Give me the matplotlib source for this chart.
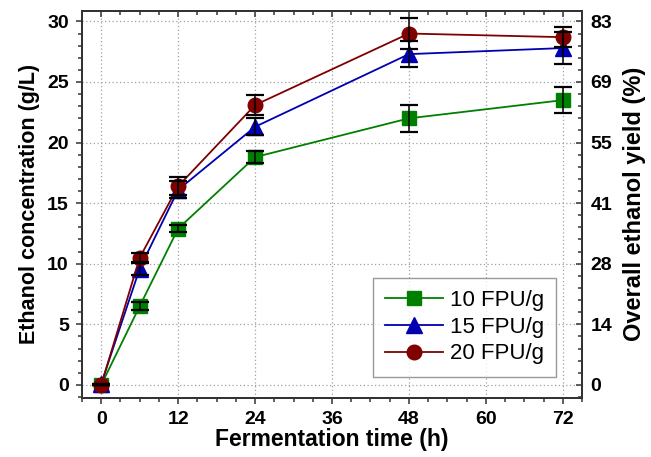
import numpy as np
import matplotlib
matplotlib.use("Agg")
import matplotlib.pyplot as plt
from matplotlib.ticker import MultipleLocator
from matplotlib.lines import Line2D

plt.rcParams['font.family'] = ['Liberation Sans', 'DejaVu Sans']

time_h = [0, 6, 12, 24, 48, 72]

ethanol_10 = [0.0, 6.5, 12.9, 18.8, 22.0, 23.5]
err_10 = [0.0, 0.35, 0.3, 0.5, 1.1, 1.1]

ethanol_15 = [0.1, 9.6, 16.1, 21.3, 27.3, 27.8]
err_15 = [0.0, 0.5, 0.7, 0.7, 1.1, 1.3]

ethanol_20 = [0.0, 10.5, 16.4, 23.1, 29.0, 28.7]
err_20 = [0.0, 0.35, 0.75, 0.8, 1.3, 0.8]

series_labels = ["10 FPU/g", "15 FPU/g", "20 FPU/g"]
series_colors = ["#008000", "#0000b0", "#800000"]
series_markers = ["s", "^", "o"]
marker_sizes = [10.5, 12, 10.5]

yield_ticks = [0, 5, 10, 15, 20, 25, 30]
yield_labels = ["0", "14", "28", "41", "55", "69", "83"]

fig = plt.figure(figsize=(6.51, 4.57), dpi=100)
ax = fig.add_axes([0.126, 0.130, 0.768, 0.847])

all_y = [ethanol_10, ethanol_15, ethanol_20]
all_err = [err_10, err_15, err_20]
handles = []
for y, lab, c, m, ms in zip(all_y, series_labels, series_colors, series_markers, marker_sizes):
    ax.plot(time_h, y, color=c, marker=m, markersize=ms, markeredgecolor=c,
            markerfacecolor=c, lw=1.3, zorder=3)
    handles.append(Line2D([], [], color=c, marker=m, markersize=ms, markeredgecolor=c,
                          markerfacecolor=c, lw=1.3, label=lab))

# error bars sit on top of the markers
for y, e in zip(all_y, all_err):
    ax.errorbar(time_h, y, yerr=e, fmt="none", ecolor="black", elinewidth=1.1,
                capsize=6.5, capthick=1.6, zorder=4)

xlim = (-3.0, 75.0)
ylim = (-1.05, 30.9)
ax.set_xlim(xlim)
ax.set_ylim(ylim)
ax.xaxis.set_major_locator(MultipleLocator(12))
ax.xaxis.set_minor_locator(MultipleLocator(3))
ax.yaxis.set_major_locator(MultipleLocator(5))
ax.yaxis.set_minor_locator(MultipleLocator(1))
ax.grid(True, which="major", ls=(0, (1, 2)), color="#a0a0a0", lw=0.9)
ax.tick_params(which="both", direction="out", labelsize=14, width=1.1, color="#333333")
ax.tick_params(which="major", length=4.5)
ax.tick_params(which="minor", length=3)
ax.tick_params(axis="x", pad=5)
ax.tick_params(axis="y", pad=5)
for lbl in ax.get_xticklabels() + ax.get_yticklabels():
    lbl.set_fontweight("bold")
for sp in ax.spines.values():
    sp.set_linewidth(1.3)
    sp.set_color("#333333")

ax.set_xlabel("Fermentation time (h)", fontsize=16.5, fontweight="bold", labelpad=0)
ax.set_ylabel("Ethanol concentration (g/L)", fontsize=15.5, fontweight="bold", labelpad=5)

# top axis: inward ticks, no labels
axt = ax.twiny()
axt.set_xlim(xlim)
axt.xaxis.set_major_locator(MultipleLocator(12))
axt.xaxis.set_minor_locator(MultipleLocator(3))
axt.tick_params(which="both", direction="in", labeltop=False, width=1.1, color="#333333")
axt.tick_params(which="major", length=4.5)
axt.tick_params(which="minor", length=3)

# right axis: overall ethanol yield
ax2 = ax.twinx()
ax2.set_ylim(ylim)
ax2.set_yticks(yield_ticks)
ax2.set_yticklabels(yield_labels, fontweight="bold")
ax2.yaxis.set_minor_locator(MultipleLocator(1))
ax2.tick_params(which="both", direction="in", labelsize=14, width=1.1, pad=6, color="#333333")
ax2.tick_params(which="major", length=4.5)
ax2.tick_params(which="minor", length=3)
ax2.set_ylabel("Overall ethanol yield (%)", fontsize=17, fontweight="bold", labelpad=8)
for a in (axt, ax2):
    for sp in a.spines.values():
        sp.set_linewidth(1.3)
        sp.set_color("#333333")

leg = ax.legend(handles=handles, loc="lower right", fontsize=16, frameon=True,
                fancybox=False, edgecolor="#808080", handlelength=2.6,
                handletextpad=0.3, borderpad=0.55, labelspacing=0.26,
                borderaxespad=0, bbox_to_anchor=(0.948, 0.054))
leg.get_frame().set_linewidth(1.0)
leg.set_zorder(10)

fig.savefig("out.png", dpi=100)
